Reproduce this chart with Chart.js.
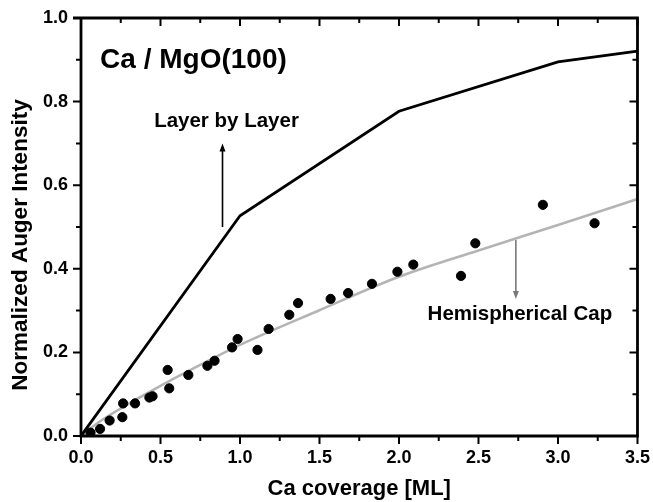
<!DOCTYPE html>
<html lang="en">
<head>
  <meta charset="UTF-8">
  <title>Ca / MgO(100)</title>
  <script src="https://cdn.jsdelivr.net/npm/chart.js"></script>
  <style>
    html, body { margin: 0; padding: 0; background: #fff; }
    #wrap { width: 653px; height: 502px; }
  </style>
</head>
<body>
  <div id="wrap"><canvas id="auger"></canvas></div>

<script>
  // measured Auger points
  const coverage = [0.06, 0.12, 0.18, 0.26, 0.265, 0.34, 0.43, 0.45, 0.545, 0.555, 0.675, 0.795, 0.84,
    0.95, 0.985, 1.11, 1.18, 1.31, 1.365, 1.57, 1.68, 1.83, 1.99, 2.09, 2.39, 2.48, 2.905, 3.23];
  const intensity = [0.008, 0.017, 0.037, 0.045, 0.078, 0.078, 0.092, 0.095, 0.158, 0.114, 0.146, 0.168, 0.18,
    0.212, 0.232, 0.206, 0.256, 0.29, 0.318, 0.328, 0.342, 0.364, 0.393, 0.41, 0.383, 0.461, 0.553, 0.509];

  // layer-by-layer growth model
  const layerX = [0, 1.0, 2.0, 3.0, 3.5];
  const layerY = [0, 0.527, 0.777, 0.895, 0.921];

  // hemispherical cap model
  const capX = [0, 0.1, 0.25, 0.5, 0.75, 1.0, 1.5, 2.0, 2.5, 3.0, 3.5];
  const capY = [0, 0.03, 0.066, 0.12, 0.17, 0.218, 0.301, 0.381, 0.444, 0.505, 0.567];

  const xTicks = [0, 0.5, 1.0, 1.5, 2.0, 2.5, 3.0, 3.5];
  const yTicks = [0, 0.2, 0.4, 0.6, 0.8, 1.0];

  const FONT = '"Liberation Sans", Arial, sans-serif';

  function pairs(xs, ys) {
    return xs.map(function (v, i) { return { x: v, y: ys[i] }; });
  }

  // tick values incl. the minor ones halfway between labels
  function withMinor(ticks) {
    const out = [];
    for (let i = 0; i < ticks.length; i++) {
      out.push({ v: ticks[i], major: true });
      if (i < ticks.length - 1) out.push({ v: (ticks[i] + ticks[i + 1]) / 2, major: false });
    }
    return out;
  }

  function arrow(ctx, x, y0, y1, color) {
    const dir = y1 < y0 ? 1 : -1;
    ctx.strokeStyle = color;
    ctx.fillStyle = color;
    ctx.lineWidth = 1.6;
    ctx.beginPath();
    ctx.moveTo(x, y0);
    ctx.lineTo(x, y1 + dir * 6);
    ctx.stroke();
    ctx.beginPath();
    ctx.moveTo(x, y1);
    ctx.lineTo(x - 3, y1 + dir * 8);
    ctx.lineTo(x + 3, y1 + dir * 8);
    ctx.closePath();
    ctx.fill();
  }

  const decor = {
    id: 'decor',
    // box with ticks: outward on bottom/left, inward on top/right
    afterDatasetsDraw(chart) {
      const ctx = chart.ctx;
      const sx = chart.scales.x, sy = chart.scales.y;
      const L = sx.getPixelForValue(0), R = sx.getPixelForValue(3.5);
      const B = sy.getPixelForValue(0), T = sy.getPixelForValue(1);
      ctx.save();
      ctx.strokeStyle = 'black';
      ctx.lineWidth = 2;
      withMinor(xTicks).forEach(function (t) {
        const px = sx.getPixelForValue(t.v);
        const len = t.major ? 8 : 5;
        ctx.beginPath();
        ctx.moveTo(px, B);
        ctx.lineTo(px, B + len);
        ctx.moveTo(px, T);
        ctx.lineTo(px, T + len);
        ctx.stroke();
      });
      withMinor(yTicks).forEach(function (t) {
        const py = sy.getPixelForValue(t.v);
        const len = t.major ? 8 : 5;
        ctx.beginPath();
        ctx.moveTo(L, py);
        ctx.lineTo(L - len, py);
        ctx.moveTo(R, py);
        ctx.lineTo(R - len, py);
        ctx.stroke();
      });
      ctx.lineWidth = 2.8;
      ctx.beginPath();
      ctx.moveTo(L - 8, T);
      ctx.lineTo(R, T);
      ctx.lineTo(R, B);
      ctx.lineTo(L, B);
      ctx.lineTo(L, T);
      ctx.stroke();
      ctx.restore();
    },
    // axis titles, captions and arrows
    afterDraw(chart) {
      const ctx = chart.ctx;
      const sx = chart.scales.x, sy = chart.scales.y;
      ctx.save();
      ctx.fillStyle = 'black';
      ctx.textAlign = 'center';
      ctx.textBaseline = 'middle';
      ctx.font = 'bold 22px ' + FONT;
      ctx.fillText('Ca coverage [ML]', (sx.getPixelForValue(0) + sx.getPixelForValue(3.5)) / 2, 489);
      ctx.save();
      ctx.translate(21, 245);
      ctx.rotate(-Math.PI / 2);
      ctx.font = 'bold 22.5px ' + FONT;
      ctx.fillText('Normalized Auger Intensity', 0, 0);
      ctx.restore();

      ctx.textAlign = 'left';
      ctx.font = 'bold 28px ' + FONT;
      ctx.fillText('Ca / MgO(100)', sx.getPixelForValue(0.12), sy.getPixelForValue(0.9));
      ctx.font = 'bold 20.5px ' + FONT;
      ctx.fillText('Layer by Layer', sx.getPixelForValue(0.46), sy.getPixelForValue(0.752));
      ctx.fillText('Hemispherical Cap', sx.getPixelForValue(2.18), sy.getPixelForValue(0.29));

      arrow(ctx, sx.getPixelForValue(0.89), sy.getPixelForValue(0.5), sy.getPixelForValue(0.7), 'black');
      arrow(ctx, sx.getPixelForValue(2.735), sy.getPixelForValue(0.469), sy.getPixelForValue(0.328), '#7a7a7a');
      ctx.restore();
    }
  };

  new Chart(document.getElementById('auger'), {
    type: 'scatter',
    data: {
      datasets: [{
        label: 'data',
        data: pairs(coverage, intensity),
        backgroundColor: '#000',
        borderColor: '#000',
        pointRadius: 4.6,
        showLine: false
      }, {
        label: 'Layer by Layer',
        data: pairs(layerX, layerY),
        showLine: true,
        borderColor: '#000',
        borderWidth: 2.8,
        pointRadius: 0
      }, {
        label: 'Hemispherical Cap',
        data: pairs(capX, capY),
        showLine: true,
        borderColor: '#b4b4b4',
        borderWidth: 2.6,
        pointRadius: 0,
        cubicInterpolationMode: 'monotone'
      }]
    },
    options: {
      responsive: true,
      maintainAspectRatio: false,
      animation: false,
      layout: { padding: { top: 18, right: 1, left: 0, bottom: 0 } },
      plugins: { legend: { display: false }, tooltip: { enabled: false } },
      scales: {
        x: {
          type: 'linear', min: 0, max: 3.5,
          grid: { display: false },
          border: { display: false },
          afterBuildTicks: function (s) { s.ticks = xTicks.map(function (v) { return { value: v }; }); },
          afterFit: function (s) { s.height = 66; },
          ticks: {
            color: '#000', padding: 3, maxRotation: 0, autoSkip: false,
            font: { family: FONT, size: 18, weight: 'bold' },
            callback: function (v) { return Number(v).toFixed(1); }
          }
        },
        y: {
          type: 'linear', min: 0, max: 1,
          grid: { display: false },
          border: { display: false },
          afterBuildTicks: function (s) { s.ticks = yTicks.map(function (v) { return { value: v }; }); },
          afterFit: function (s) { s.width = 81; },
          ticks: {
            color: '#000', padding: 5, autoSkip: false,
            font: { family: FONT, size: 18, weight: 'bold' },
            callback: function (v) { return Number(v).toFixed(1); }
          }
        }
      }
    },
    plugins: [decor]
  });
</script>
</body>
</html>
